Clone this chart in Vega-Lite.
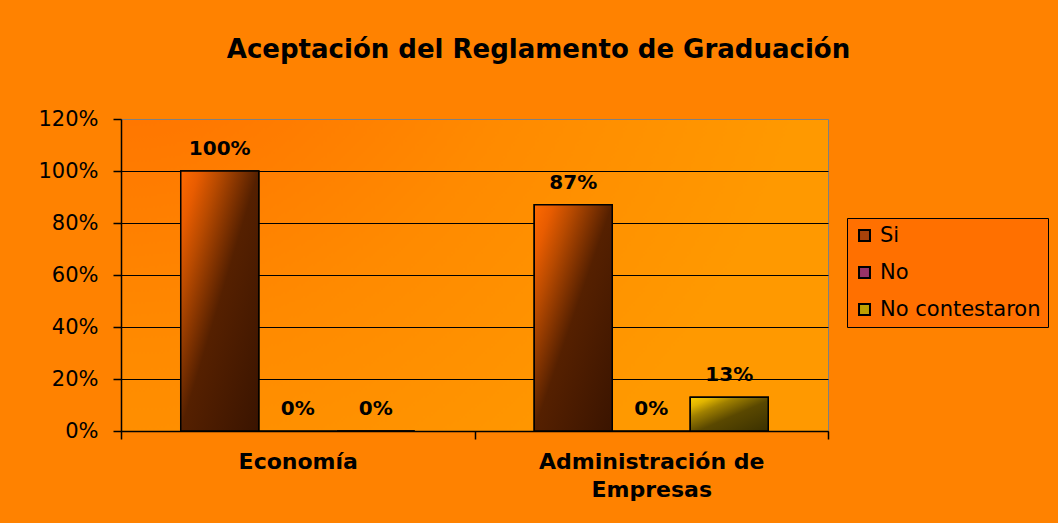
{
  "$schema": "https://vega.github.io/schema/vega-lite/v6.json",
  "width": 707,
  "height": 312,
  "autosize": {"type": "none"},
  "padding": {"left": 121, "top": 119, "right": 230, "bottom": 92},
  "background": "#FF8200",
  "title": {
    "text": "Aceptación del Reglamento de Graduación",
    "font": "DejaVu Sans",
    "fontSize": 26,
    "fontWeight": "bold",
    "color": "black",
    "anchor": "middle",
    "frame": "group",
    "dx": 64,
    "offset": 45
  },
  "config": {
    "font": "DejaVu Sans",
    "view": {
      "stroke": "#808080",
      "strokeWidth": 1,
      "fill": {
        "gradient": "radial",
        "x1": 0, "y1": 0, "r1": 0,
        "x2": 0, "y2": 0, "r2": 1,
        "stops": [
          {"offset": 0, "color": "#FF6600"},
          {"offset": 0.6, "color": "#FF8A00"},
          {"offset": 1, "color": "#FF9900"}
        ]
      }
    }
  },
  "data": {
    "values": [
      {"carrera": "Economía", "respuesta": "Si", "valor": 1.0},
      {"carrera": "Economía", "respuesta": "No", "valor": 0},
      {"carrera": "Economía", "respuesta": "No contestaron", "valor": 0},
      {"carrera": "Administración de Empresas", "respuesta": "Si", "valor": 0.87},
      {"carrera": "Administración de Empresas", "respuesta": "No", "valor": 0},
      {"carrera": "Administración de Empresas", "respuesta": "No contestaron", "valor": 0.13}
    ]
  },
  "encoding": {
    "x": {
      "field": "carrera",
      "type": "nominal",
      "sort": null,
      "scale": {"domain": ["Economía", "Administración de Empresas"], "paddingInner": 0, "paddingOuter": 0},
      "axis": {
        "title": null,
        "labelAngle": 0,
        "labelFontSize": 22,
        "labelFontWeight": "bold",
        "labelColor": "black",
        "labelPadding": 12,
        "labelLineHeight": 28,
        "labelLimit": 500,
        "labelExpr": "datum.label == 'Administración de Empresas' ? ['Administración de', 'Empresas'] : datum.label",
        "domainColor": "black",
        "domainWidth": 1.5,
        "tickColor": "black",
        "tickSize": 8,
        "tickWidth": 1.5,
        "tickBand": "extent",
        "grid": false
      }
    },
    "xOffset": {
      "field": "respuesta",
      "type": "nominal",
      "sort": null,
      "scale": {"domain": ["Si", "No", "No contestaron"], "paddingInner": 0, "paddingOuter": 0.766}
    },
    "y": {
      "field": "valor",
      "type": "quantitative",
      "scale": {"domain": [0, 1.2], "nice": false},
      "axis": {
        "title": null,
        "values": [0, 0.2, 0.4, 0.6, 0.8, 1.0, 1.2],
        "format": ".0%",
        "labelFontSize": 21,
        "labelColor": "black",
        "labelPadding": 15,
        "domainColor": "black",
        "domainWidth": 1.5,
        "tickColor": "black",
        "tickSize": 8,
        "tickWidth": 1.5,
        "grid": true,
        "gridColor": {"condition": {"test": "datum.value >= 1.2", "value": "#808080"}, "value": "black"},
        "gridOpacity": 1,
        "gridWidth": 1.2
      }
    }
  },
  "layer": [
    {
      "mark": {"type": "bar", "stroke": "black", "strokeWidth": 1.5},
      "encoding": {
        "color": {
          "field": "respuesta",
          "type": "nominal",
          "scale": {"domain": ["Si", "No", "No contestaron"], "range": ["#A8420A", "#993366", "#BFA000"]},
          "legend": {
            "title": null,
            "orient": "none",
            "legendX": 726,
            "legendY": 99,
            "direction": "vertical",
            "strokeColor": "black",
            "fillColor": "#FF7000",
            "padding": 7,
            "symbolType": "square",
            "symbolSize": 120,
            "symbolStrokeColor": "black",
            "symbolStrokeWidth": 2,
            "labelFontSize": 21,
            "labelColor": "black",
            "labelOffset": 5,
            "labelLimit": 500,
            "rowPadding": 15
          }
        }
      }
    },
    {
      "transform": [{"filter": "datum.respuesta === 'Si'"}],
      "mark": {
        "type": "bar",
        "stroke": "black",
        "strokeWidth": 1.5,
        "fill": {
          "gradient": "linear",
          "x1": 0, "y1": 0, "x2": 1, "y2": 1,
          "stops": [
            {"offset": 0, "color": "#FF6A00"},
            {"offset": 0.12, "color": "#E85C00"},
            {"offset": 0.25, "color": "#B84A00"},
            {"offset": 0.5, "color": "#552000"},
            {"offset": 1, "color": "#3A1400"}
          ]
        }
      }
    },
    {
      "transform": [{"filter": "datum.respuesta === 'No contestaron'"}],
      "mark": {
        "type": "bar",
        "stroke": "black",
        "strokeWidth": 1.5,
        "fill": {
          "gradient": "linear",
          "x1": 0, "y1": 0, "x2": 1, "y2": 1,
          "stops": [
            {"offset": 0, "color": "#FFD000"},
            {"offset": 0.15, "color": "#E0B400"},
            {"offset": 0.3, "color": "#A08000"},
            {"offset": 0.55, "color": "#5A4800"},
            {"offset": 1, "color": "#3A3000"}
          ]
        }
      }
    },
    {
      "mark": {"type": "text", "fontSize": 20, "fontWeight": "bold", "color": "black", "baseline": "alphabetic", "dy": -16},
      "encoding": {
        "text": {"field": "valor", "type": "quantitative", "format": ".0%"}
      }
    }
  ]
}
